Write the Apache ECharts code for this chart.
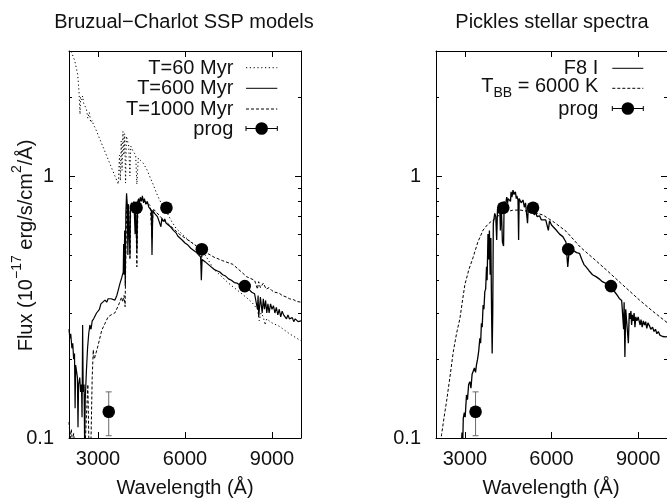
<!DOCTYPE html>
<html><head><meta charset="utf-8">
<script src="https://cdn.jsdelivr.net/npm/echarts@6/dist/echarts.min.js"></script>
<style>html,body{margin:0;padding:0;background:#fff}#c{width:667px;height:499px}</style>
</head><body><div id="c"></div><script>
// ---------- data ----------
const xTicks = [3000, 6000, 9000];
const yMajorTicks = [0.1, 1];
const yMinorTicks = [0.2, 0.3, 0.4, 0.5, 0.6, 0.7, 0.8, 0.9, 2, 3];

const leftTitle = 'Bruzual\u2212Charlot SSP models';
const rightTitle = 'Pickles stellar spectra';
const xName = 'Wavelength (\u00c5)';

// Bruzual-Charlot SSP, T = 60 Myr  [wavelength (A), flux]
const ssp60 = [[2000,3.3],[2070,3.0],[2200,2.75],[2300,2.44],[2345,2.1],[2380,1.72],[2400,2.0],[2430,1.95],[2470,2.02],[2500,1.9],[2550,1.85],[2600,1.8],[2650,1.66],[2700,1.75],[2750,1.6],[2800,1.63],[2850,1.56],[2900,1.53],[2955,1.52],[3700,0.93],[3740,1.2],[3770,0.96],[3800,1.36],[3830,1.05],[3860,1.48],[3890,1.2],[3920,1.45],[3950,0.94],[3980,1.42],[4020,1.36],[4060,1.3],[4100,1.0],[4130,1.3],[4200,1.25],[4300,1.2],[4340,0.93],[4390,1.17],[4450,1.15],[4560,1.12],[4700,1.05],[4860,0.95],[4900,0.93],[5000,0.87],[5100,0.82],[5200,0.78],[5365,0.73],[5540,0.67],[5700,0.63],[5900,0.6],[6200,0.56],[6500,0.53],[6560,0.49],[6600,0.52],[7000,0.44],[7500,0.39],[8100,0.345],[8300,0.33],[8500,0.31],[8560,0.28],[8620,0.30],[8700,0.29],[8760,0.27],[8820,0.285],[8900,0.28],[9000,0.275],[9250,0.267],[9600,0.25],[10000,0.235]];

// T = 600 Myr
const ssp600 = [[2000,0.26],[2030,0.24],[2060,0.25],[2100,0.22],[2130,0.23],[2160,0.20],[2190,0.21],[2210,0.13],[2230,0.19],[2260,0.18],[2290,0.17],[2310,0.11],[2330,0.16],[2370,0.17],[2400,0.15],[2430,0.16],[2450,0.12],[2470,0.27],[2490,0.15],[2520,0.16],[2540,0.09],[2560,0.14],[2600,0.18],[2640,0.22],[2680,0.25],[2720,0.27],[2760,0.26],[2800,0.28],[2850,0.285],[2900,0.29],[2950,0.30],[3000,0.305],[3050,0.31],[3100,0.325],[3150,0.32],[3240,0.336],[3300,0.33],[3350,0.34],[3400,0.335],[3450,0.34],[3500,0.335],[3584,0.336],[3650,0.35],[3698,0.367],[3760,0.39],[3820,0.41],[3870,0.43],[3885,0.55],[3900,0.42],[3920,0.62],[3940,0.38],[3960,0.72],[3985,0.86],[4010,0.78],[4030,0.5],[4050,0.78],[4075,0.6],[4102,0.5],[4120,0.77],[4160,0.79],[4200,0.77],[4240,0.8],[4280,0.6],[4300,0.78],[4340,0.52],[4370,0.8],[4400,0.82],[4430,0.78],[4460,0.83],[4500,0.80],[4530,0.84],[4570,0.79],[4600,0.82],[4650,0.78],[4700,0.80],[4750,0.76],[4800,0.77],[4840,0.74],[4862,0.5],[4890,0.74],[4950,0.72],[5000,0.73],[5050,0.70],[5100,0.71],[5170,0.64],[5200,0.69],[5250,0.67],[5300,0.685],[5350,0.66],[5400,0.665],[5500,0.64],[5550,0.645],[5600,0.62],[5700,0.605],[5750,0.59],[5800,0.595],[5900,0.57],[6000,0.555],[6100,0.545],[6200,0.53],[6300,0.52],[6400,0.51],[6540,0.49],[6563,0.40],[6590,0.48],[6700,0.47],[6850,0.455],[7000,0.44],[7100,0.435],[7200,0.43],[7300,0.42],[7400,0.415],[7500,0.405],[7600,0.40],[7700,0.392],[7800,0.39],[7900,0.383],[8000,0.38],[8100,0.372],[8200,0.37],[8300,0.36],[8400,0.355],[8498,0.31],[8520,0.35],[8542,0.29],[8600,0.345],[8662,0.30],[8700,0.34],[8740,0.31],[8780,0.335],[8820,0.30],[8860,0.325],[8900,0.30],[8950,0.325],[9000,0.31],[9050,0.32],[9100,0.30],[9150,0.315],[9200,0.295],[9250,0.31],[9300,0.29],[9350,0.305],[9400,0.295],[9450,0.30],[9500,0.285],[9550,0.295],[9600,0.285],[9700,0.288],[9750,0.278],[9800,0.285],[9900,0.278],[10000,0.28]];

// T = 1000 Myr
const ssp1000 = [[2000,0.115],[2040,0.10],[2080,0.108],[2120,0.096],[2160,0.104],[2200,0.093],[2250,0.1],[2300,0.085],[2400,0.08],[2500,0.075],[2550,0.09],[2600,0.12],[2650,0.16],[2690,0.09],[2760,0.1],[2800,0.17],[2837,0.217],[2870,0.2],[2900,0.205],[3000,0.225],[3130,0.258],[3250,0.275],[3350,0.29],[3450,0.295],[3580,0.30],[3700,0.32],[3815,0.345],[3850,0.33],[3900,0.35],[3935,0.317],[3960,0.5],[3990,0.76],[4020,0.70],[4060,0.78],[4102,0.48],[4130,0.77],[4200,0.79],[4250,0.80],[4300,0.78],[4340,0.45],[4380,0.79],[4450,0.82],[4500,0.83],[4600,0.80],[4700,0.79],[4800,0.77],[4862,0.58],[4900,0.75],[5000,0.73],[5100,0.71],[5200,0.69],[5300,0.67],[5400,0.66],[5500,0.645],[5600,0.63],[5700,0.615],[5800,0.60],[5900,0.59],[6000,0.58],[6200,0.56],[6400,0.54],[6540,0.53],[6563,0.46],[6600,0.525],[6800,0.505],[7000,0.49],[7300,0.475],[7650,0.46],[8000,0.425],[8120,0.413],[8400,0.40],[8498,0.37],[8540,0.395],[8600,0.375],[8700,0.39],[8800,0.37],[8900,0.375],[9000,0.365],[9100,0.36],[9250,0.357],[9350,0.35],[9500,0.345],[9600,0.34],[9750,0.337],[9850,0.332],[10000,0.33]];

// Pickles F8 I
const f8I = [[2870,0.09],[2900,0.105],[2930,0.10],[2945,0.119],[2980,0.125],[3010,0.12],[3056,0.146],[3090,0.14],[3130,0.16],[3173,0.164],[3210,0.155],[3250,0.175],[3287,0.172],[3330,0.185],[3370,0.178],[3401,0.19],[3440,0.2],[3480,0.215],[3518,0.24],[3545,0.23],[3573,0.274],[3600,0.265],[3632,0.322],[3660,0.31],[3690,0.362],[3720,0.37],[3750,0.45],[3770,0.40],[3800,0.60],[3825,0.48],[3850,0.62],[3875,0.42],[3900,0.58],[3925,0.30],[3945,0.21],[3965,0.3],[3985,0.66],[4035,0.72],[4070,0.70],[4102,0.57],[4130,0.75],[4170,0.72],[4208,0.764],[4230,0.62],[4260,0.78],[4300,0.56],[4340,0.54],[4360,0.80],[4400,0.77],[4450,0.83],[4480,0.79],[4500,0.82],[4553,0.834],[4580,0.80],[4600,0.87],[4630,0.83],[4667,0.884],[4700,0.85],[4750,0.87],[4780,0.82],[4800,0.84],[4840,0.81],[4861,0.57],[4880,0.82],[4950,0.79],[5012,0.81],[5060,0.76],[5100,0.79],[5170,0.66],[5200,0.77],[5270,0.74],[5357,0.745],[5400,0.71],[5450,0.725],[5500,0.70],[5588,0.705],[5650,0.68],[5700,0.69],[5800,0.68],[5890,0.62],[5933,0.675],[6000,0.65],[6050,0.655],[6161,0.622],[6280,0.60],[6392,0.587],[6500,0.56],[6563,0.45],[6623,0.537],[6750,0.52],[6870,0.51],[6968,0.507],[7050,0.48],[7120,0.46],[7196,0.45],[7300,0.435],[7420,0.42],[7541,0.413],[7650,0.405],[7760,0.395],[7886,0.389],[8003,0.384],[8100,0.37],[8200,0.36],[8280,0.35],[8348,0.341],[8430,0.335],[8498,0.26],[8515,0.33],[8542,0.204],[8570,0.31],[8620,0.315],[8662,0.23],[8693,0.30],[8720,0.285],[8750,0.305],[8775,0.27],[8800,0.295],[8830,0.28],[8860,0.30],[8890,0.265],[8920,0.29],[8960,0.28],[9000,0.29],[9040,0.286],[9070,0.27],[9100,0.283],[9140,0.265],[9180,0.28],[9220,0.27],[9260,0.278],[9300,0.262],[9340,0.275],[9393,0.268],[9440,0.26],[9500,0.265],[9550,0.255],[9600,0.26],[9650,0.25],[9700,0.255],[9750,0.247],[9800,0.25],[9850,0.244],[9900,0.247],[9950,0.243],[10000,0.244]];

// Black body T_BB = 6000 K (as drawn)
const bb6000 = [[2150,0.093],[2193,0.103],[2280,0.12],[2366,0.138],[2480,0.17],[2597,0.213],[2710,0.25],[2828,0.286],[2910,0.33],[3000,0.385],[3140,0.44],[3287,0.49],[3450,0.56],[3632,0.622],[3800,0.655],[3977,0.68],[4200,0.71],[4436,0.73],[4650,0.74],[4898,0.742],[5300,0.73],[5702,0.71],[6100,0.665],[6506,0.615],[7000,0.535],[7400,0.49],[7900,0.438],[8400,0.39],[9048,0.336],[9500,0.305],[10000,0.276]];

// progenitor photometry
const progWave = [3370, 4330, 5360, 6580, 8060];
const progFlux = [0.126, 0.757, 0.757, 0.525, 0.38];
const progLow  = [0.102, 0.74, 0.74, 0.515, 0.372];
const progHigh = [0.15, 0.775, 0.775, 0.535, 0.388];

// ---------- chart ----------
const FONT = '"Liberation Sans", Arial, Helvetica, sans-serif';
const TXT = '#111';
const GL = [69, 436], GT = 51, GW = 232, GH = 387;

function xAx(g, pos, labels) {
  return {type:'value', gridIndex:g, position:pos, min:2000, max:10000,
    axisLine:{show:true, onZero:false, lineStyle:{color:'#000', width:1}},
    axisTick:{show:true, inside:true, length:6, customValues:xTicks, lineStyle:{color:'#000', width:1}},
    axisLabel:{show:labels, customValues:xTicks, formatter:v=>String(Math.round(v)), margin:11,
      fontSize:20, fontFamily:FONT, color:TXT},
    splitLine:{show:false}, minorTick:{show:false}};
}
function yAx(g, pos, major, labels) {
  return {type:'log', logBase:10, gridIndex:g, position:pos, min:0.1, max:3,
    axisLine:{show:major, onZero:false, lineStyle:{color:'#000', width:1}},
    axisTick:{show:true, inside:true, length:major?6:3, customValues:major?yMajorTicks:yMinorTicks,
      lineStyle:{color:'#000', width:1}},
    axisLabel:{show:labels, customValues:yMajorTicks, formatter:v=>String(+(+v).toPrecision(3)), margin:15,
      fontSize:20, fontFamily:FONT, color:TXT},
    splitLine:{show:false}, minorTick:{show:false}};
}

function lineSeries(data, xi, yi, type, w) {
  return {type:'line', xAxisIndex:xi, yAxisIndex:yi, data:data, symbol:'none', showSymbol:false,
    clip:true, z:2, silent:true,
    lineStyle:{color:'#000', width:w||1, type:type, opacity:1}};
}
function errSeries(xi, yi) {
  return {type:'custom', xAxisIndex:xi, yAxisIndex:yi, z:3, silent:true, clip:true,
    data: progWave.map((w,i)=>[w, progLow[i], progHigh[i]]),
    encode:{x:0, y:[1,2]},
    renderItem:function(params, api){
      const a = api.coord([api.value(0), api.value(2)]);
      const b = api.coord([api.value(0), api.value(1)]);
      const st = {stroke:'#6a6a6a', lineWidth:1};
      return {type:'group', children:[
        {type:'line', shape:{x1:a[0], y1:a[1], x2:b[0], y2:b[1]}, style:st},
        {type:'line', shape:{x1:a[0]-3, y1:a[1], x2:a[0]+3, y2:a[1]}, style:st},
        {type:'line', shape:{x1:b[0]-3, y1:b[1], x2:b[0]+3, y2:b[1]}, style:st}
      ]};
    }};
}
function dotSeries(xi, yi) {
  return {type:'scatter', xAxisIndex:xi, yAxisIndex:yi, z:4, silent:true,
    data: progWave.map((w,i)=>[w, progFlux[i]]),
    symbol:'circle', symbolSize:12.6, itemStyle:{color:'#000', opacity:1}};
}

function txt(x, y, s, align, extra) {
  return Object.assign({type:'text', x:x, y:y, silent:true,
    style:{text:s, fontSize:20, fontFamily:FONT, fill:TXT, align:align, textAlign:align,
      verticalAlign:'middle', textVerticalAlign:'middle'}}, extra||{});
}
function sample(x1, x2, y, dash) {
  return {type:'line', silent:true, shape:{x1:x1, y1:y, x2:x2, y2:y},
    style:{stroke:'#000', lineWidth:1, lineDash:dash||null}};
}
function progSample(x1, x2, y) {
  const c = (x1+x2)/2;
  return [
    {type:'line', silent:true, shape:{x1:x1, y1:y, x2:x2, y2:y}, style:{stroke:'#000', lineWidth:1}},
    {type:'line', silent:true, shape:{x1:x1, y1:y-2.5, x2:x1, y2:y+2.5}, style:{stroke:'#000', lineWidth:1}},
    {type:'line', silent:true, shape:{x1:x2, y1:y-2.5, x2:x2, y2:y+2.5}, style:{stroke:'#000', lineWidth:1}},
    {type:'circle', silent:true, shape:{cx:c, cy:y, r:6.3}, style:{fill:'#000'}}
  ];
}

const DOT = [1.2, 2.6], DASH = [3, 2];
const mRich = {fontSize:20, lineHeight:20, fontFamily:FONT, fill:TXT, padding:[12,0,0,0]};
const sRich = {fontSize:14, lineHeight:14, fontFamily:FONT, fill:TXT, verticalAlign:'top'};

const graphics = [
  txt(184, 22, leftTitle, 'center'),
  txt(552, 22, rightTitle, 'center'),
  txt(185, 488, xName, 'center'),
  txt(551, 488, xName, 'center'),
  {type:'text', x:20, y:245.5, rotation:Math.PI/2, silent:true,
    style:{text:'{m|Flux (10}{s|\u221217}{m| erg/s/cm}{s|2}{m|/\u00c5)}', align:'center', textAlign:'center',
      verticalAlign:'middle', textVerticalAlign:'middle', fontSize:20, fontFamily:FONT, fill:TXT,
      rich:{m:mRich, s:sRich}}},
  // left key
  txt(233.3, 68.5, 'T=60 Myr', 'right'),
  txt(233.3, 88.8, 'T=600 Myr', 'right'),
  txt(233.3, 109, 'T=1000 Myr', 'right'),
  txt(233.3, 129, 'prog', 'right'),
  sample(246, 277.3, 67.7, DOT),
  sample(246, 277.3, 88.3),
  sample(246, 277.3, 109, DASH),
  ...progSample(246, 277.3, 128.5),
  // right key
  txt(598.3, 68.5, 'F8 I', 'right'),
  {type:'text', x:598.3, y:76.5, silent:true,
    style:{text:'{m|T}{s|BB}{m| = 6000 K}', align:'right', textAlign:'right', verticalAlign:'top',
      textVerticalAlign:'top', fontSize:20, fontFamily:FONT, fill:TXT,
      rich:{m:{fontSize:20, lineHeight:20, fontFamily:FONT, fill:TXT, verticalAlign:'top'},
            s:{fontSize:14, lineHeight:14, fontFamily:FONT, fill:TXT, verticalAlign:'top', padding:[10,0,0,0]}}}},
  txt(598.3, 109, 'prog', 'right'),
  sample(612.3, 643.3, 68.3),
  sample(612.3, 643.3, 88.3, DASH),
  ...progSample(612.3, 643.3, 108.5)
];

const chart = echarts.init(document.getElementById('c'), null, {renderer:'canvas', width:667, height:499});
chart.setOption({
  animation:false,
  backgroundColor:'#fff',
  textStyle:{fontFamily:FONT},
  grid:[
    {left:GL[0], top:GT, width:GW, height:GH, containLabel:false},
    {left:GL[1], top:GT, width:GW, height:GH, containLabel:false}
  ],
  xAxis:[xAx(0,'bottom',true), xAx(0,'top',false), xAx(1,'bottom',true), xAx(1,'top',false)],
  yAxis:[yAx(0,'left',true,true), yAx(0,'left',false,false), yAx(0,'right',true,false), yAx(0,'right',false,false),
         yAx(1,'left',true,true), yAx(1,'left',false,false), yAx(1,'right',true,false), yAx(1,'right',false,false)],
  series:[
    lineSeries(ssp60, 0, 0, DOT, 1),
    lineSeries(ssp600, 0, 0, 'solid', 1.2),
    lineSeries(ssp1000, 0, 0, DASH, 1),
    errSeries(0, 0),
    dotSeries(0, 0),
    lineSeries(f8I, 2, 4, 'solid', 1.3),
    lineSeries(bb6000, 2, 4, DASH, 1),
    errSeries(2, 4),
    dotSeries(2, 4)
  ],
  graphic:graphics
});
</script></body></html>
